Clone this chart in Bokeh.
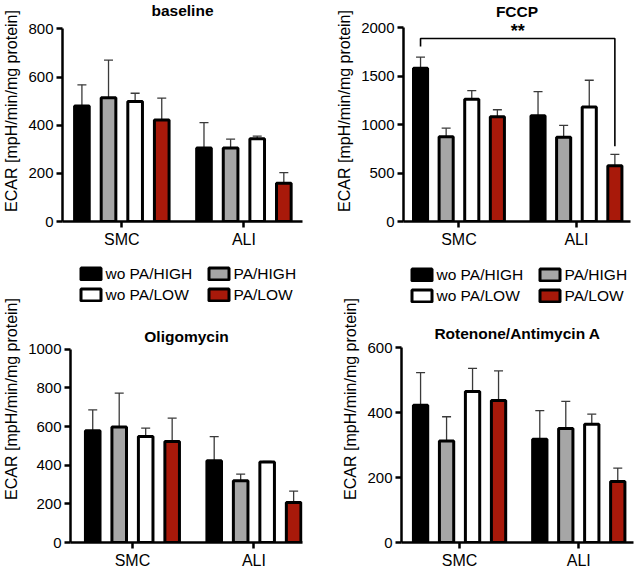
from bokeh.plotting import figure
from bokeh.models import (ColumnDataSource, Range1d, FixedTicker, Whisker, TeeHead,
                          Legend, LegendItem, Label)
from bokeh.layouts import row, column
from bokeh.embed import file_html
from bokeh.resources import INLINE

# Categories and series
groups = ["SMC", "ALI"]
series = ["wo PA/HIGH", "PA/HIGH", "wo PA/LOW", "PA/LOW"]
colors = ["#000000", "#a6a6a6", "#ffffff", "#a8190a"]

# Mean ECAR per series, values for [SMC, ALI]
baseline_mean = [[480, 305], [514, 305], [499, 344], [422, 159]]
baseline_err = [[88, 106], [157, 37], [34, 11], [91, 44]]

fccp_mean = [[1580, 1090], [875, 868], [1260, 1180], [1080, 575]]
fccp_err = [[115, 248], [87, 122], [90, 276], [72, 117]]

oligo_mean = [[578, 423], [598, 319], [548, 416], [522, 207]]
oligo_err = [[108, 125], [175, 35], [44, 3], [121, 59]]

rot_mean = [[422, 318], [312, 351], [465, 364], [437, 188]]
rot_err = [[101, 88], [75, 83], [71, 31], [91, 41]]

# Significance between SMC wo PA/HIGH and ALI PA/LOW in FCCP
fccp_sig = "**"

FONT = "Liberation Sans"
BAR_STEP = 0.218
BAR_W = 0.12
ERR_COLOR = "#3a3a3a"
OFFSETS = [(i - (len(series) - 1) / 2) * BAR_STEP for i in range(len(series))]


def bar_style(i):
    return dict(fill_color=colors[i], line_color="black", line_width=3)


def make_panel(title, means, errs, y_max, y_step, x_span, size, borders, data_h, title_gap):
    """Bar panel whose plot area reaches the top edge; the value axis stops at y_max
    and the space above it holds the heading (and, below, the key)."""
    w, h = size
    left, right, bottom = borders
    frame_h = h - bottom
    y_top = y_max * frame_h / data_h
    p = figure(width=w, height=h, x_range=Range1d(*x_span), y_range=Range1d(0, y_top),
               output_backend="svg", toolbar_location=None,
               min_border_left=left, min_border_right=right,
               min_border_top=0, min_border_bottom=bottom)
    p.add_layout(Label(x=(x_span[0] + x_span[1]) / 2, y=y_max, y_offset=title_gap,
                       text=title, text_align="center", text_baseline="alphabetic",
                       text_font=FONT, text_font_size="15.5px", text_font_style="bold",
                       text_color="black"))
    p.xgrid.visible = False
    p.ygrid.visible = False
    p.outline_line_color = None
    p.background_fill_color = "white"
    p.border_fill_color = "white"

    for ax in (p.xaxis[0], p.yaxis[0]):
        ax.axis_line_width = 2.5
        ax.axis_line_color = "black"
        ax.major_tick_line_width = 2.5
        ax.major_tick_line_color = "black"
        ax.major_tick_out = 6
        ax.major_tick_in = 0
        ax.minor_tick_line_color = None
        ax.major_label_text_font = FONT
        ax.major_label_text_color = "black"
        ax.major_label_standoff = 3

    p.xaxis.ticker = FixedTicker(ticks=list(range(len(groups))))
    p.xaxis.major_label_overrides = {i: g for i, g in enumerate(groups)}
    p.xaxis.major_label_text_font_size = "16px"

    p.yaxis.bounds = (0, y_max)
    p.yaxis.ticker = FixedTicker(ticks=list(range(0, y_max + 1, y_step)))
    p.yaxis.major_label_text_font_size = "15px"
    p.yaxis.axis_label = "ECAR [mpH/min/mg protein]"
    p.yaxis.axis_label_text_font = FONT
    p.yaxis.axis_label_text_font_size = "16px"
    p.yaxis.axis_label_text_font_style = "normal"
    p.yaxis.axis_label_text_color = "black"
    p.yaxis.axis_label_standoff = 5

    renderers = []
    for i, name in enumerate(series):
        xs = [g + OFFSETS[i] for g in range(len(groups))]
        src = ColumnDataSource(dict(
            x=xs, top=means[i],
            upper=[m + e for m, e in zip(means[i], errs[i])]))
        wk = Whisker(base="x", lower="top", upper="upper", source=src,
                     line_color=ERR_COLOR, line_width=1.3, level="underlay",
                     upper_head=TeeHead(size=9, line_color=ERR_COLOR, line_width=1.3),
                     lower_head=None)
        p.add_layout(wk)
        renderers.append(p.vbar(x="x", top="top", bottom=0, width=BAR_W, source=src,
                                **bar_style(i)))
    return p, renderers


def add_key(p, renderers, col_x, vy):
    """Two-column key: wo PA on the left, PA on the right."""
    for cols, vx in zip(((0, 2), (1, 3)), col_x):
        lg = Legend(items=[LegendItem(label=series[k], renderers=[renderers[k]]) for k in cols],
                    location=(vx, vy), orientation="vertical",
                    glyph_width=25, glyph_height=15, label_height=18,
                    label_standoff=3, spacing=3, padding=0, margin=0,
                    border_line_color=None, background_fill_alpha=0,
                    label_text_font=FONT, label_text_font_size="15.5px",
                    label_text_color="black")
        p.add_layout(lg)


p1, _ = make_panel("baseline", baseline_mean, baseline_err, 800, 200,
                   (-0.486, 1.48), (318, 255), (62, 16, 30), 196, 18)
p2, _ = make_panel("FCCP", fccp_mean, fccp_err, 2000, 500,
                   (-0.472, 1.46), (320, 255), (85, 8, 34), 194, 16)

# Significance bracket: SMC wo PA/HIGH vs ALI PA/LOW
bx0 = 0 + OFFSETS[0]
bx1 = 1 + OFFSETS[3]
by = 1887
foot0 = fccp_mean[0][0] + fccp_err[0][0] + 110
foot1 = fccp_mean[3][1] + fccp_err[3][1] + 85
p2.line(x=[bx0, bx0, bx1, bx1], y=[foot0, by, by, foot1], line_color="black", line_width=1.6)
p2.add_layout(Label(x=(bx0 + bx1) / 2, y=by, y_offset=7, text=fccp_sig, text_align="center",
                    text_baseline="alphabetic", text_font=FONT, text_font_size="18px",
                    text_font_style="bold", text_color="black"))

p3, r3 = make_panel("Oligomycin", oligo_mean, oligo_err, 1000, 200,
                    (-0.51, 1.40), (318, 318), (63, 16, 30), 194, 12.5)
p4, r4 = make_panel("Rotenone/Antimycin A", rot_mean, rot_err, 600, 200,
                    (-0.487, 1.459), (320, 318), (83, 5, 31), 195, 14)

# keys for the upper panels sit in the free band above the lower panels
add_key(p3, r3, (7.5, 135.5), 238.5)
add_key(p4, r4, (7.5, 135.5), 237.5)

layout = column(row(p1, p2), row(p3, p4))
open("out.html", "w").write(file_html(layout, INLINE))
